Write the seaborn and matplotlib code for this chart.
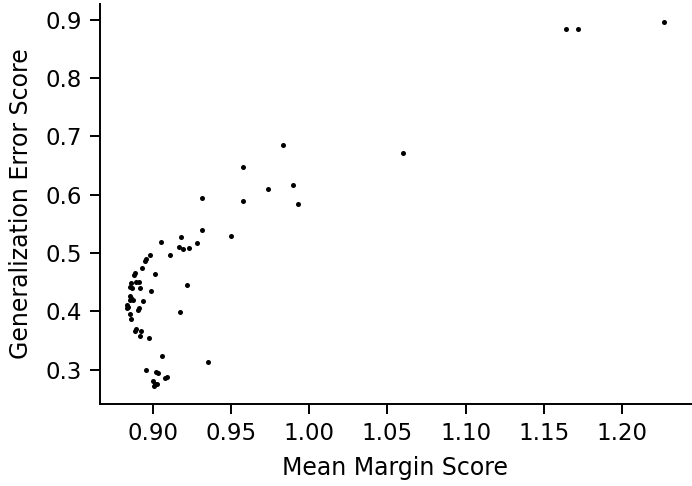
import matplotlib
matplotlib.use("Agg")
import matplotlib.pyplot as plt
import seaborn as sns
import pandas as pd

mean_margin = [
    1.227, 1.164, 1.1716, 1.0602,
    0.983, 0.9573, 0.9736, 0.9896, 0.9313, 0.9575, 0.9926, 0.9313,
    0.918, 0.9501, 0.9049, 0.9283, 0.9169, 0.9192, 0.9228, 0.9108,
    0.898, 0.8958, 0.8949, 0.8932, 0.9015, 0.8884, 0.888, 0.8862,
    0.889, 0.8909, 0.8852, 0.8869, 0.8918, 0.8987, 0.922, 0.8854,
    0.8862, 0.885, 0.8875, 0.8935, 0.8837, 0.8833, 0.8909, 0.8843,
    0.8906, 0.9175, 0.8856, 0.8862, 0.8892, 0.8886, 0.8922, 0.8918,
    0.8977, 0.9055, 0.9349, 0.8953, 0.902, 0.9032, 0.9091, 0.908,
    0.8998, 0.9015, 0.9027, 0.9008,
]
gen_error = [
    0.896, 0.884, 0.884, 0.6723,
    0.686, 0.6483, 0.6105, 0.6164, 0.594, 0.5894, 0.5843, 0.5402,
    0.5277, 0.5294, 0.5196, 0.5174, 0.51, 0.5076, 0.5083, 0.4963,
    0.4973, 0.49, 0.486, 0.4745, 0.4647, 0.4653, 0.4619, 0.4482,
    0.45, 0.451, 0.4413, 0.4396, 0.4407, 0.435, 0.4448, 0.427,
    0.4235, 0.42, 0.42, 0.4178, 0.411, 0.4063, 0.4053, 0.4085,
    0.4029, 0.3984, 0.396, 0.387, 0.3698, 0.3664, 0.3664, 0.3578,
    0.3549, 0.323, 0.3132, 0.2994, 0.2955, 0.2943, 0.2874, 0.2857,
    0.2811, 0.2749, 0.276, 0.2725,
]
x_ticks = [0.90, 0.95, 1.00, 1.05, 1.10, 1.15, 1.20]
x_ticklabels = ["0.90", "0.95", "1.00", "1.05", "1.10", "1.15", "1.20"]
y_ticks = [0.3, 0.4, 0.5, 0.6, 0.7, 0.8, 0.9]

df = pd.DataFrame({"Mean Margin Score": mean_margin,
                   "Generalization Error Score": gen_error})

sns.set_style("ticks")
plt.rcParams.update({"text.color": "black", "axes.labelcolor": "black",
                     "xtick.color": "black", "ytick.color": "black",
                     "axes.edgecolor": "black"})
fig = plt.figure(figsize=(6.92, 4.86), dpi=100)
ax = fig.add_axes([100/692, (486-404)/486, (691-100)/692, (404-4)/486])
sns.scatterplot(data=df, x="Mean Margin Score", y="Generalization Error Score",
                color="black", s=13, linewidth=0, ax=ax)
sns.despine(ax=ax)
ax.set_xticks(x_ticks)
ax.set_xticklabels(x_ticklabels)
ax.set_yticks(y_ticks)
ax.tick_params(labelsize=16.5, width=1.4, length=7.5, pad=5.5)
ax.set_xlabel("Mean Margin Score", fontsize=17, labelpad=8)
ax.set_ylabel("Generalization Error Score", fontsize=17, labelpad=9)
for s in ax.spines.values():
    s.set_linewidth(1.4)
fig.savefig("out.png", dpi=100)
